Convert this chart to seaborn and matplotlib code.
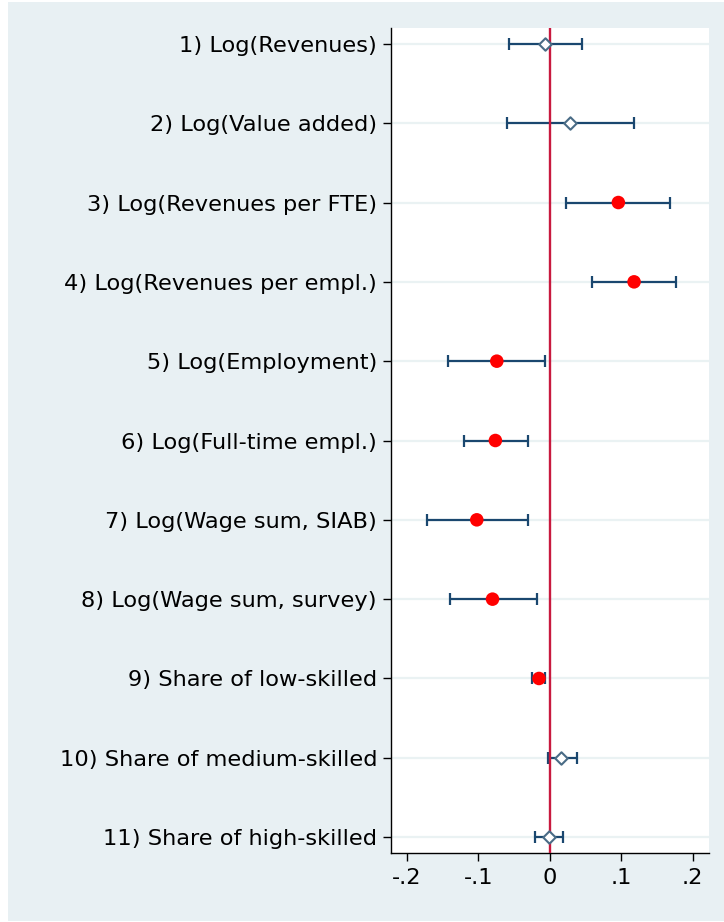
import numpy as np
import pandas as pd
import matplotlib
matplotlib.use("Agg")
import matplotlib.pyplot as plt
import seaborn as sns
from matplotlib.patches import Rectangle

# ── data ──────────────────────────────────────────────────────────────────────
labels = [
    "1) Log(Revenues)",
    "2) Log(Value added)",
    "3) Log(Revenues per FTE)",
    "4) Log(Revenues per empl.)",
    "5) Log(Employment)",
    "6) Log(Full-time empl.)",
    "7) Log(Wage sum, SIAB)",
    "8) Log(Wage sum, survey)",
    "9) Share of low-skilled",
    "10) Share of medium-skilled",
    "11) Share of high-skilled",
]
coef = [-0.007, 0.029, 0.096, 0.118, -0.074, -0.076, -0.102, -0.080, -0.015, 0.016, -0.001]
ci_low = [-0.057, -0.060, 0.023, 0.059, -0.142, -0.120, -0.172, -0.140, -0.025, -0.003, -0.020]
ci_high = [0.045, 0.118, 0.168, 0.177, -0.007, -0.031, -0.031, -0.018, -0.006, 0.038, 0.018]
significant = [False, False, True, True, True, True, True, True, True, False, False]
xticks = [-0.2, -0.1, 0.0, 0.1, 0.2]
xticklabels = ["-.2", "-.1", "0", ".1", ".2"]

df = pd.DataFrame({"label": labels, "coef": coef, "lo": ci_low, "hi": ci_high,
                   "sig": significant})
df["pos"] = np.arange(1, len(df) + 1)

# ── style ─────────────────────────────────────────────────────────────────────
sns.set_theme(style="white")
# wide sans so label extents match the (horizontally stretched) original
plt.rcParams["font.family"] = ["DejaVu Sans"]
FS = 16.2

BG = "#e8f0f3"
NAVY = "#1a476f"
DIAMOND = "#4a6c86"
ZERO = "#c8193e"

fig = plt.figure(figsize=(7.24, 9.22), dpi=100, facecolor="white")
fig.patches.append(Rectangle((8 / 724, 1 / 922), 1 - 8 / 724, 919 / 922,
                             transform=fig.transFigure, facecolor=BG,
                             edgecolor="none", zorder=-10))
ax = fig.add_axes([391 / 724, 69 / 922, 318 / 724, 825 / 922])
ax.set_facecolor("white")

# horizontal grid at each row
for p in df["pos"]:
    ax.axhline(p, color="#eaf2f3", lw=1.6, zorder=1)

ax.errorbar(df["coef"], df["pos"],
            xerr=[df["coef"] - df["lo"], df["hi"] - df["coef"]],
            fmt="none", ecolor=NAVY, elinewidth=1.6, capsize=4.5,
            capthick=1.6, zorder=2)

ax.axvline(0, color=ZERO, lw=1.7, zorder=3)

sig = df[df["sig"]]
nsig = df[~df["sig"]]
sns.scatterplot(data=sig, x="coef", y="pos", ax=ax, color="#ff0000",
                marker="o", s=95, edgecolor="none", zorder=4, legend=False)
sns.scatterplot(data=nsig, x="coef", y="pos", ax=ax, marker="D", s=40,
                facecolor="white", edgecolor=DIAMOND, linewidth=1.5,
                zorder=4, legend=False)

ax.set_xlim(-0.222, 0.2228)
ax.set_ylim(11.2, 0.8)
ax.set_yticks(df["pos"])
ax.set_yticklabels(df["label"], fontsize=FS, color="black")
ax.set_xticks(xticks)
ax.set_xticklabels(xticklabels, fontsize=FS, color="black")
ax.set_xlabel("")
ax.set_ylabel("")

for side in ["top", "right"]:
    ax.spines[side].set_visible(False)
for side in ["left", "bottom"]:
    ax.spines[side].set_color("black")
    ax.spines[side].set_linewidth(1.0)
ax.tick_params(axis="y", direction="out", length=6, width=1, color="black",
               left=True, pad=4)
ax.tick_params(axis="x", direction="out", length=6, width=1, color="black",
               bottom=True, pad=5)

fig.savefig("out.png", dpi=100, facecolor="white")
